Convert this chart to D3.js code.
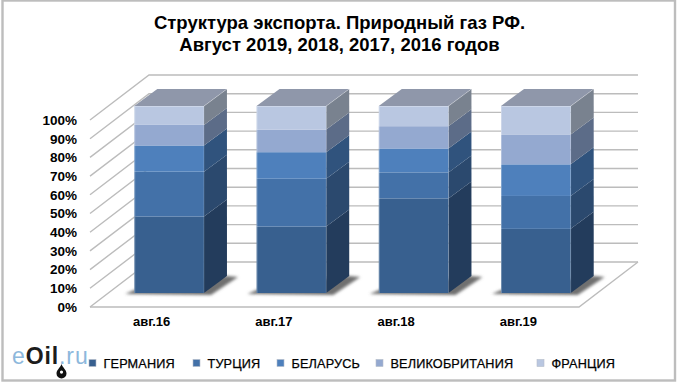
<!DOCTYPE html>
<html lang="ru">
<head>
  <meta charset="UTF-8">
  <title>Структура экспорта. Природный газ РФ</title>
  <script src="https://d3js.org/d3.v7.min.js"></script>
  <style>
    html, body { margin: 0; padding: 0; background: #fff; }
    svg { display: block; font-family: "Liberation Sans", Arial, sans-serif; }
    text { fill: #000; }
    .grid { fill: none; stroke: #bcbcbc; stroke-width: 1.4px; }
    .axis path, .axis line { display: none; }
    .axis text { font-family: "Liberation Sans", Arial, sans-serif; font-weight: bold; fill: #000; }
  </style>
</head>
<body>
  <svg width="681" height="385"></svg>

  <script>
    const titleLines = ["Структура экспорта. Природный газ РФ.", "Август 2019, 2018, 2017, 2016 годов"];
    const categories = ["авг.16", "авг.17", "авг.18", "авг.19"];
    const countries = ["ГЕРМАНИЯ", "ТУРЦИЯ", "БЕЛАРУСЬ", "ВЕЛИКОБРИТАНИЯ", "ФРАНЦИЯ"];

    // shares in percent, one array per country, same order as categories
    const germany = [40.9, 35.5, 50.6, 34.3];
    const turkey = [24.0, 25.6, 13.9, 17.6];
    const belarus = [14.0, 14.2, 12.8, 16.9];
    const britain = [11.0, 12.1, 11.9, 16.0];
    const france = [10.1, 12.6, 10.8, 15.2];
    const seriesValues = [germany, turkey, belarus, britain, france];

    const frontColors = ["#38608f", "#4371a8", "#4e80bc", "#94a9d0", "#b9c7e1"];
    const sideColors = ["#233c5c", "#2b496e", "#30537d", "#5c6c88", "#79828f"];
    const topColor = "#8f97aa";
    const legendX = [89, 193, 277, 376, 537];
    const percentTicks = d3.range(0, 101, 10);

    const svg = d3.select("svg");

    // picture frame
    svg.append("rect")
      .attr("x", 2.5).attr("y", 0.5).attr("width", 672.5).attr("height", 380)
      .attr("fill", "#fff").attr("stroke", "#bdbdbd").attr("stroke-width", 2.4);

    const defs = svg.append("defs");
    defs.append("filter").attr("id", "blur").attr("x", "-20%").attr("y", "-50%")
      .attr("width", "140%").attr("height", "200%")
      .append("feGaussianBlur").attr("stdDeviation", 1.6);

    // the 3d box: front plane of the floor, plane of the bars, back wall
    const left = 90, right = 579;
    const wallDx = 59, wallDy = -45;
    const barDx = 18, barDy = -14;
    const depthDx = 23, depthDy = -17;

    const xAxisScale = d3.scaleBand().domain(categories).range([left, right]);
    const x = d3.scaleBand().domain(categories).range([left + barDx, right + barDx])
      .paddingInner(0.43).paddingOuter(0.215);
    const y = d3.scaleLinear().domain([0, 100]).range([293, 106]);
    const yFront = d3.scaleLinear().domain([0, 100]).range([293 - barDy, 106 - barDy]);

    // walls
    const line = d3.line();
    svg.append("g").selectAll("path")
      .data(percentTicks)
      .join("path")
      .attr("class", "grid")
      .attr("d", d => line([
        [left, yFront(d)],
        [left + wallDx, yFront(d) + wallDy],
        [right + wallDx, yFront(d) + wallDy]
      ]));

    // floor
    svg.append("path")
      .attr("class", "grid")
      .attr("d", line([
        [left, yFront(0)],
        [right, yFront(0)],
        [right + wallDx, yFront(0) + wallDy]
      ]));

    // axes
    svg.append("g").attr("class", "axis")
      .attr("transform", `translate(${left - 13},0)`)
      .call(d3.axisLeft(yFront).tickValues(percentTicks).tickSize(0).tickPadding(0).tickFormat(d => d + "%"))
      .call(g => g.selectAll("text").attr("font-size", 13.5));

    svg.append("g").attr("class", "axis")
      .attr("transform", "translate(0,317)")
      .call(d3.axisBottom(xAxisScale).tickSize(0).tickPadding(0))
      .call(g => g.selectAll("text").attr("font-size", 13).attr("dx", 0.5));

    // bars
    const bars = svg.append("g").selectAll("g")
      .data(categories)
      .join("g");

    bars.each(function(cat, i) {
      const g = d3.select(this);
      const x0 = x(cat), x1 = x0 + x.bandwidth();

      // shadow on the floor
      g.append("path")
        .attr("filter", "url(#blur)")
        .attr("fill", "#6f6f6f")
        .attr("d", line([
          [x0 - 9, y(0) + 1], [x0, y(0) - 3], [x1 + depthDx, y(0) + depthDy],
          [x1 + depthDx + 11, y(0) + depthDy + 1], [x1 + 7, y(0) + 2]
        ]) + "Z");

      let acc = 0;
      seriesValues.forEach((values, s) => {
        const y0 = y(acc), y1 = y(acc + values[i]);
        // side
        g.append("path")
          .attr("fill", sideColors[s])
          .attr("d", line([
            [x1, y0], [x1 + depthDx, y0 + depthDy], [x1 + depthDx, y1 + depthDy], [x1, y1]
          ]) + "Z");
        // front
        g.append("rect")
          .attr("x", x0).attr("y", y1)
          .attr("width", x.bandwidth()).attr("height", y0 - y1)
          .attr("fill", frontColors[s]);
        acc += values[i];
      });

      // top
      g.append("path")
        .attr("fill", topColor)
        .attr("d", line([
          [x0, y(100)], [x1, y(100)], [x1 + depthDx, y(100) + depthDy], [x0 + depthDx, y(100) + depthDy]
        ]) + "Z");

      // soft light edges
      g.append("path")
        .attr("fill", "none").attr("stroke", "#fff").attr("stroke-opacity", 0.28)
        .attr("d", line([[x0 + 0.5, y(0)], [x0 + 0.5, y(100) + 0.5], [x1 - 0.5, y(100) + 0.5], [x1 + depthDx, y(100) + depthDy]]));
      g.append("path")
        .attr("fill", "none").attr("stroke", "#fff").attr("stroke-opacity", 0.15)
        .attr("d", line([[x1, y(100)], [x1, y(0)]]));
    });

    // title
    svg.append("g").selectAll("text")
      .data(titleLines)
      .join("text")
      .attr("x", 339.5)
      .attr("y", (d, i) => 29 + i * 21.5)
      .attr("text-anchor", "middle")
      .attr("font-size", 18.5)
      .attr("font-weight", "bold")
      .text(d => d);

    // legend
    const legend = svg.append("g").selectAll("g")
      .data(countries)
      .join("g")
      .attr("transform", (d, i) => `translate(${legendX[i]},363)`);

    legend.append("rect")
      .attr("x", 0).attr("y", -3.5).attr("width", 7).attr("height", 7)
      .attr("fill", (d, i) => frontColors[i])
      .attr("stroke", "#b5bcc9").attr("stroke-width", 0.6);

    legend.append("text")
      .attr("x", 14.5)
      .attr("y", 4.5)
      .attr("font-size", 12.7)
      .attr("letter-spacing", 0.15)
      .attr("stroke", "#000").attr("stroke-width", 0.25)
      .text(d => d);

    // eOil.ru mark
    const logo = svg.append("text")
      .attr("x", 12).attr("y", 364)
      .attr("font-size", 23)
      .attr("letter-spacing", 0.9);
    logo.append("tspan").attr("fill", "#8db8dc").text("e");
    logo.append("tspan").attr("fill", "#1c1c1c").attr("font-weight", "bold").text("Oil");
    logo.append("tspan").attr("fill", "#8db8dc").text(".ru");

    svg.append("path")
      .attr("fill", "#111")
      .attr("fill-rule", "evenodd")
      .attr("d", "M61.5 364 C60 368 56.5 370 56.5 373.5 A5 5 0 0 0 66.5 373.5 C66.5 370 63 368 61.5 364Z M61.5 370.5 A1.6 1.6 0 1 0 61.5 373.7 A1.6 1.6 0 1 0 61.5 370.5Z");
  </script>
</body>
</html>
